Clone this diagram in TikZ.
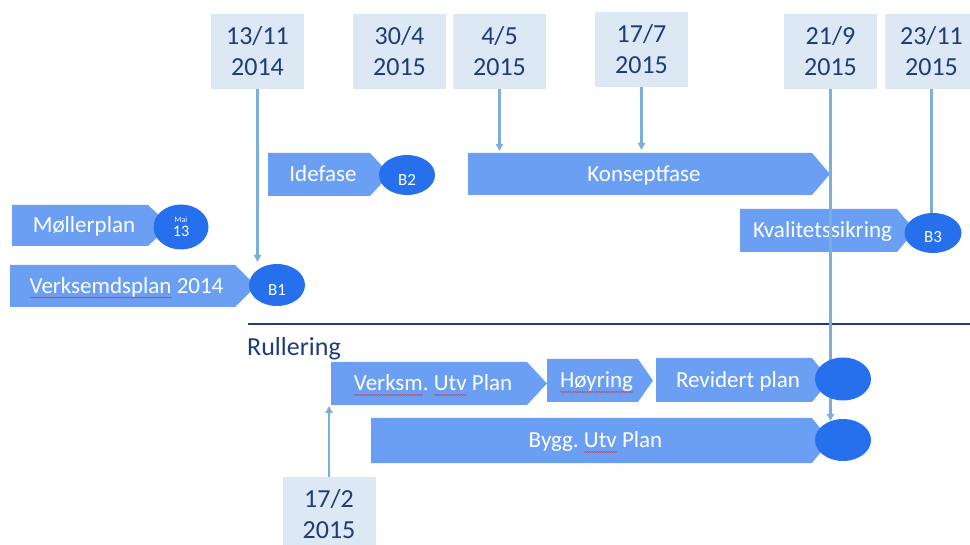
\documentclass[tikz,border=0pt]{standalone}
\usepackage{fontspec}
\setmainfont{Carlito}
\frenchspacing
\usetikzlibrary{shapes.geometric,arrows.meta,decorations.pathmorphing}
\definecolor{phasecol}{HTML}{6A9FF4}
\definecolor{ellcol}{HTML}{2670EE}
\definecolor{datefill}{HTML}{DCE9F5}
\definecolor{navy}{HTML}{1F3B78}
\definecolor{conncol}{HTML}{7BAED8}
\definecolor{squig}{HTML}{E0303A}
\newsavebox\wavebox
\newlength\wavew
\newcommand\redwave[1]{\sbox\wavebox{#1}\setlength\wavew{\wd\wavebox}%
  \rlap{\raisebox{-4pt}{\tikz[baseline=0pt]\draw[squig,line width=0.5pt,decorate,decoration={snake,amplitude=0.5pt,segment length=2.4pt}] (0pt,0pt) -- (\the\wavew,0pt);}}%
  \usebox\wavebox}
\newcommand\lowtext[2]{\raisebox{-#1}[0pt][0pt]{#2}}
% name, x1, x2 (end of body), x3 (tip), ytop, ybot, text
\newcommand\phase[7]{%
  \fill[phasecol] (#2,#5) -- (#3,#5) -- (#4,{(#5+#6)/2}) -- (#3,#6) -- (#2,#6) -- cycle;
  \node[phasetext] (#1) at ({(#2+#3)/2+4},{(#5+#6)/2}) {#7};}
\begin{document}
\begin{tikzpicture}[x=1pt,y=-1pt,
  phasetext/.style={text=white,font=\fontsize{23}{27}\selectfont,inner sep=0pt,text height=15pt,text depth=0pt},
  bell/.style={ellipse,fill=ellcol,minimum width=56pt,minimum height=42pt,inner sep=0pt,text=white,font=\fontsize{17}{17}\selectfont},
  datebox/.style={fill=datefill,minimum width=93pt,minimum height=75pt,inner sep=0pt,align=center,text=navy,font=\fontsize{26}{31}\selectfont},
  conn/.style={draw=conncol,line width=2.5pt,-{Triangle[length=7pt,width=7pt]}},
  connplain/.style={draw=conncol,line width=2.5pt}]
\path[use as bounding box] (0,0) rectangle (970,545);
\clip (0,0) rectangle (970,545);

% date boxes
\node[datebox] (d1) at (257.5,51.5) {13/11\\2014};
\node[datebox] (d2) at (399.5,51.5) {30/4\\2015};
\node[datebox] (d3) at (499.5,51.5) {4/5\\2015};
\node[datebox] (d4) at (641.5,49.5) {17/7\\2015};
\node[datebox] (d5) at (830.5,51.5) {21/9\\2015};
\node[datebox] (d6) at (931.5,51.5) {23/11\\2015};
\node[datebox] (d7) at (329,514.5) {17/2\\2015};

% phases
\phase{moller}{12}{148}{170}{205}{246}{Møllerplan}
\phase{vp}{10}{235}{256}{265}{307}{\redwave{Verksemdsplan} 2014}
\phase{ide}{268}{370}{390}{153}{196}{Idefase}
\phase{konsept}{468}{812}{830}{153}{195}{Konseptfase}
\phase{kval}{740}{897}{915}{209}{252}{Kvalitetssikring}
\phase{vup}{331}{527}{547}{362}{405}{\redwave{Verksm}. \redwave{Utv} Plan}
\phase{hoy}{547}{638}{653}{359}{402}{\redwave{Høyring}}
\phase{rev}{656}{812}{830}{358}{402}{Revidert plan}
\phase{bygg}{371}{812}{830}{418}{463}{Bygg. \redwave{Utv} Plan}

% divider
\draw[navy,line width=2.5pt] (248,324) -- (970,324);
\node[anchor=west,text=navy,font=\fontsize{26}{30}\selectfont,inner sep=0pt] (rull) at (247,349) {Rullering};

% connectors
\coordinate (t1) at (257.5,262);
\coordinate (t3) at (499.5,151);
\coordinate (t4) at (641.5,150);
\coordinate (t5) at (830.5,421);
\coordinate (t6) at (931.5,222);
\coordinate (t7) at (329,406);
\draw[conn] (d1.south) -- (t1);
\draw[conn] (d3.south) -- (t3);
\draw[conn] (d4.south) -- (t4);
\draw[conn] (d5.south) -- (t5);
\draw[connplain] (d6.south) -- (t6);
\draw[conn] (d7.north) -- (t7);

% milestones
\node[bell,minimum width=55pt,minimum height=45pt,align=center,font=\fontsize{16}{16}\selectfont] (mai) at (181,227) {{\fontsize{8}{9}\selectfont Mai}\\[-2pt]13};
\node[bell] (b1) at (277,285) {\lowtext{11pt}{B1}};
\node[bell,minimum height=40pt] (b2) at (407,175) {\lowtext{11pt}{B2}};
\node[bell,minimum width=57pt,minimum height=40pt] (b3) at (933,233) {\lowtext{9.5pt}{B3}};
\node[bell,minimum height=43pt] (c1) at (843,379) {};
\node[bell,minimum height=42pt] (c2) at (843,440) {};
\end{tikzpicture}
\end{document}
